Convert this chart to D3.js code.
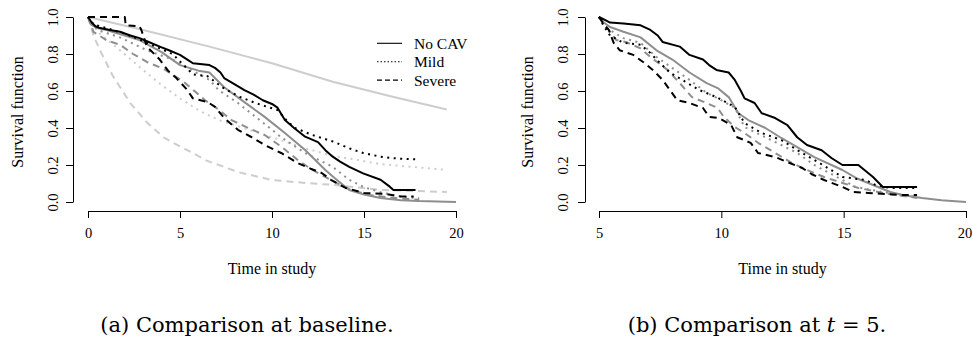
<!DOCTYPE html>
<html><head><meta charset="utf-8">
<script src="https://cdn.jsdelivr.net/npm/d3@7"></script>
<style>body{margin:0;background:#fff}svg{display:block}</style>
</head><body>
<svg id="chart" width="973" height="341"></svg>
<script>
// ---------- DATA ----------
const legendLabels = ["No CAV", "Mild", "Severe"];
const leftXTicks = [0, 5, 10, 15, 20];
const rightXTicks = [5, 10, 15, 20];
const yTicks = [0, 0.2, 0.4, 0.6, 0.8, 1.0];
const xLabel = "Time in study";
const yLabel = "Survival function";
const captionA = "(a) Comparison at baseline.";

// Left panel (baseline)
const leftNoCavKM = [[0,1],[0.2,0.97],[0.4,0.95],[0.65,0.94],[1.2,0.93],[1.74,0.92],[2.3,0.9],[2.8,0.886],[3.3,0.865],[3.9,0.84],[4.4,0.82],[5,0.795],[5.4,0.77],[5.7,0.75],[6.6,0.74],[6.9,0.725],[7.2,0.7],[7.4,0.67],[8.0,0.635],[8.5,0.605],[9.0,0.58],[9.5,0.55],[10.0,0.53],[10.3,0.51],[10.7,0.443],[11.2,0.4],[11.8,0.353],[12.5,0.324],[12.9,0.28],[13.3,0.245],[13.7,0.218],[14.2,0.19],[14.95,0.155],[15.9,0.12],[16.4,0.083],[16.6,0.065],[17.8,0.065]];
const leftMildKM = [[0,1],[0.3,0.96],[1,0.94],[2,0.91],[3,0.87],[3.9,0.83],[4.6,0.8],[5.2,0.74],[5.7,0.69],[6.5,0.68],[7.3,0.62],[8.2,0.57],[9.1,0.535],[10.3,0.497],[10.8,0.44],[11.25,0.40],[12.2,0.362],[13.4,0.324],[14.2,0.29],[14.95,0.265],[15.9,0.245],[16.8,0.235],[17.9,0.23]];
const leftSevereKM = [[0,1],[2.0,1],[2.05,0.955],[2.8,0.95],[2.9,0.93],[3.0,0.90],[3.2,0.84],[3.6,0.8],[3.9,0.77],[4.35,0.71],[4.8,0.67],[5.4,0.605],[5.7,0.56],[6.5,0.54],[6.9,0.515],[7.4,0.454],[8.15,0.39],[8.9,0.35],[9.6,0.308],[10.5,0.265],[11.4,0.21],[12.1,0.18],[12.7,0.157],[13.2,0.12],[14,0.076],[15,0.049],[16.2,0.043],[17.0,0.03],[17.7,0.03]];
const leftAvgNoCav = [[0,1],[0.15,0.96],[0.5,0.94],[1,0.93],[2,0.9],[2.8,0.875],[4,0.81],[5,0.74],[6,0.71],[6.6,0.70],[7.4,0.62],[8.5,0.54],[9.6,0.46],[10.7,0.373],[11.8,0.281],[12.9,0.173],[13.4,0.13],[14.2,0.065],[15,0.04],[15.9,0.022],[17,0.01],[18,0.005],[20,0.0]];
const leftAvgMild = [[0,1],[0.5,0.93],[1.74,0.89],[3.2,0.82],[4.6,0.77],[5.5,0.72],[6.6,0.66],[7.1,0.605],[8.15,0.535],[9.5,0.43],[10.5,0.35],[11.8,0.265],[13.3,0.19],[14.2,0.12],[15,0.08],[16,0.05],[17,0.03],[18,0.02]];
const leftAvgSevere = [[0,1],[0.3,0.92],[1,0.875],[1.74,0.85],[2.45,0.80],[3.2,0.757],[4.1,0.72],[5.2,0.65],[5.9,0.59],[6.36,0.55],[7.1,0.50],[7.8,0.443],[8.7,0.40],[9.6,0.362],[10.5,0.30],[11.4,0.227],[12.2,0.173],[13.5,0.103],[14.3,0.065],[15.3,0.038],[16.8,0.02],[18,0.012]];
const leftPredNoCav = [[0,1],[3,0.93],[6.6,0.84],[10,0.75],[13.3,0.65],[16.5,0.57],[19.5,0.5]];
const leftPredMild = [[0,1],[0.65,0.91],[1.74,0.82],[2.8,0.73],[3.9,0.64],[5,0.56],[6.1,0.49],[7.2,0.44],[8.15,0.41],[10,0.35],[11.8,0.29],[13.3,0.25],[15.9,0.205],[19.3,0.175]];
const leftPredSevere = [[0,1],[0.3,0.9],[0.65,0.82],[1.36,0.68],[2.3,0.535],[3.2,0.43],[4.1,0.35],[5,0.30],[5.9,0.254],[6.36,0.227],[8.15,0.162],[10,0.119],[11.8,0.103],[13.4,0.092],[15.9,0.065],[19.5,0.054]];

// Right panel (t = 5)
const rightNoCavKM = [[5,1],[5.3,0.98],[5.45,0.97],[6,0.965],[6.7,0.955],[7.1,0.93],[7.4,0.9],[7.6,0.865],[8.3,0.84],[8.7,0.795],[9.25,0.77],[9.5,0.74],[9.8,0.714],[10.3,0.70],[10.55,0.66],[10.8,0.6],[10.95,0.56],[11.36,0.535],[11.65,0.48],[12.2,0.454],[12.7,0.416],[13.1,0.35],[13.5,0.308],[14.1,0.28],[14.5,0.238],[14.95,0.2],[15.6,0.2],[16.2,0.135],[16.6,0.081],[18,0.081]];
const rightMildKM = [[5,1],[5.2,0.95],[5.45,0.90],[6,0.86],[6.7,0.85],[7.1,0.805],[7.5,0.75],[7.9,0.70],[8.4,0.66],[9.1,0.605],[9.8,0.567],[10.55,0.514],[10.95,0.427],[11.65,0.373],[12.45,0.335],[13.1,0.281],[13.8,0.227],[14.4,0.18],[14.95,0.135],[15.9,0.119],[16.3,0.092],[16.9,0.076],[18,0.076]];
const rightSevereKM = [[5,1],[5.2,0.96],[5.4,0.93],[5.6,0.86],[5.85,0.82],[6.4,0.795],[6.8,0.757],[7.2,0.714],[7.6,0.66],[7.9,0.605],[8.2,0.55],[8.7,0.535],[9.25,0.508],[9.5,0.46],[9.9,0.454],[10.4,0.416],[10.65,0.35],[11.2,0.32],[11.5,0.265],[12.2,0.243],[12.7,0.216],[13.3,0.184],[13.7,0.15],[14.2,0.119],[14.95,0.081],[15.4,0.054],[16,0.049],[17.3,0.038],[18,0.038]];
const rightAvgNoCav = [[5,1],[5.2,0.97],[5.45,0.946],[6,0.92],[6.7,0.89],[7.35,0.82],[8,0.77],[8.7,0.70],[9.4,0.643],[9.85,0.616],[10.3,0.567],[10.7,0.48],[11.1,0.443],[11.8,0.40],[12.45,0.346],[13.1,0.297],[13.8,0.243],[14.95,0.173],[15.5,0.13],[16.2,0.092],[16.9,0.054],[17.5,0.035],[18.2,0.022],[19,0.01],[20,0.0]];
const rightAvgMild = [[5,1],[5.3,0.94],[6,0.886],[6.7,0.86],[7.35,0.784],[8,0.724],[8.7,0.66],[9.4,0.59],[9.85,0.56],[10.55,0.51],[10.95,0.405],[11.8,0.35],[12.45,0.308],[13.1,0.265],[13.8,0.2],[14.95,0.119],[15.5,0.081],[16.6,0.054],[18,0.027]];
const rightAvgSevere = [[5,1],[5.4,0.93],[5.7,0.876],[6.1,0.865],[6.7,0.83],[7.1,0.784],[7.8,0.714],[8.3,0.643],[8.8,0.567],[9.4,0.535],[9.85,0.508],[10.1,0.46],[10.55,0.405],[10.95,0.373],[11.5,0.32],[12.2,0.265],[12.9,0.21],[13.5,0.173],[14.2,0.135],[14.95,0.103],[15.6,0.076],[16.6,0.049],[18,0.022]];

// ---------- DRAW ----------
const svg = d3.select("#chart");
const SERIF = "'Liberation Serif', 'Times New Roman', serif";
const BLACK = "#000000", GRAY = "#8e8e8e", LIGHT = "#cdcdcd";
const DASH = { solid: null, dotted: "2,4.5", dashed: "7,5" };

const y = d3.scaleLinear().domain([0, 1]).range([202, 17]);

function panel(cfg) {
  const x = d3.scaleLinear().domain(cfg.xDomain).range(cfg.xRange);
  const g = svg.append("g");
  cfg.series.forEach(s => {
    const line = d3.line().x(d => x(d[0])).y(d => y(d[1])).curve(d3.curveLinear);
    g.append("path").datum(s.data)
      .attr("d", line).attr("fill", "none")
      .attr("stroke", s.color).attr("stroke-width", 2)
      .attr("stroke-dasharray", DASH[s.lty])
      .attr("stroke-linejoin", "round");
  });
  // x axis
  const xa = g.append("g").attr("transform", "translate(0,211)")
    .call(d3.axisBottom(x).tickValues(cfg.xTicks).tickFormat(d3.format("d")).tickSize(7).tickSizeOuter(0).tickPadding(10));
  xa.selectAll("text").attr("font-family", SERIF).attr("font-size", 14.5).attr("fill", "#000");
  if (cfg.lastDx) xa.selectAll("text").filter((d, i, n) => i === n.length - 1).attr("dx", cfg.lastDx);
  xa.selectAll("line,path").attr("stroke", "#000").attr("stroke-width", 1);
  // y axis
  const ya = g.append("g").attr("transform", `translate(${cfg.yAxisX},0)`)
    .call(d3.axisLeft(y).tickValues(yTicks).tickFormat(d3.format(".1f")).tickSize(7).tickSizeOuter(0));
  ya.selectAll("line,path").attr("stroke", "#000").attr("stroke-width", 1);
  ya.selectAll("text").attr("x", null).attr("dy", null)
    .attr("transform", `translate(${cfg.yLabOff},0) rotate(-90)`)
    .attr("text-anchor", "middle")
    .attr("font-family", SERIF).attr("font-size", 14.5).attr("fill", "#000");
  // axis titles
  g.append("text").attr("x", (cfg.xRange[0] + cfg.xRange[1]) / 2).attr("y", 274)
    .attr("text-anchor", "middle").attr("font-family", SERIF).attr("font-size", 16).text(xLabel);
  g.append("text").attr("transform", `translate(${cfg.yTitleX},112) rotate(-90)`)
    .attr("text-anchor", "middle").attr("font-family", SERIF).attr("font-size", 16).text(yLabel);
  return { g, x };
}

panel({
  xDomain: [0, 20], xRange: [88, 456], xTicks: leftXTicks, yAxisX: 73, yLabOff: -15.5, yTitleX: 23,
  series: [
    { data: leftPredNoCav, color: LIGHT, lty: "solid" },
    { data: leftPredMild, color: LIGHT, lty: "dotted" },
    { data: leftPredSevere, color: LIGHT, lty: "dashed" },
    { data: leftAvgSevere, color: GRAY, lty: "dashed" },
    { data: leftAvgMild, color: GRAY, lty: "dotted" },
    { data: leftAvgNoCav, color: GRAY, lty: "solid" },
    { data: leftSevereKM, color: BLACK, lty: "dashed" },
    { data: leftMildKM, color: BLACK, lty: "dotted" },
    { data: leftNoCavKM, color: BLACK, lty: "solid" }
  ]
});

panel({
  xDomain: [5, 20], xRange: [599, 966], xTicks: rightXTicks, yAxisX: 585, yLabOff: -17, yTitleX: 533, lastDx: -1.5,
  series: [
    { data: rightAvgSevere, color: GRAY, lty: "dashed" },
    { data: rightAvgMild, color: GRAY, lty: "dotted" },
    { data: rightAvgNoCav, color: GRAY, lty: "solid" },
    { data: rightSevereKM, color: BLACK, lty: "dashed" },
    { data: rightMildKM, color: BLACK, lty: "dotted" },
    { data: rightNoCavKM, color: BLACK, lty: "solid" }
  ]
});

// legend (left panel)
const legDash = [null, "1.5,2", "5,3"];
const lg = svg.append("g");
legendLabels.forEach((lab, i) => {
  const yy = 43.3 + i * 18.4;
  lg.append("line").attr("x1", 377).attr("x2", 402).attr("y1", yy).attr("y2", yy)
    .attr("stroke", "#000").attr("stroke-width", 1.1).attr("stroke-dasharray", legDash[i]);
  lg.append("text").attr("x", 414).attr("y", yy).attr("dy", "0.35em")
    .attr("font-family", SERIF).attr("font-size", 15.5).text(lab);
});

// captions
const CAP = "'DejaVu Serif', 'Liberation Serif', serif";
svg.append("text").attr("x", 247).attr("y", 332).attr("text-anchor", "middle")
  .attr("font-family", CAP).attr("font-size", 21).text(captionA);
const cb = svg.append("text").attr("x", 757).attr("y", 332).attr("text-anchor", "middle")
  .attr("font-family", CAP).attr("font-size", 21);
cb.append("tspan").text("(b) Comparison at ");
cb.append("tspan").attr("font-style", "italic").text("t");
cb.append("tspan").text(" = 5.");
</script>
</body></html>
